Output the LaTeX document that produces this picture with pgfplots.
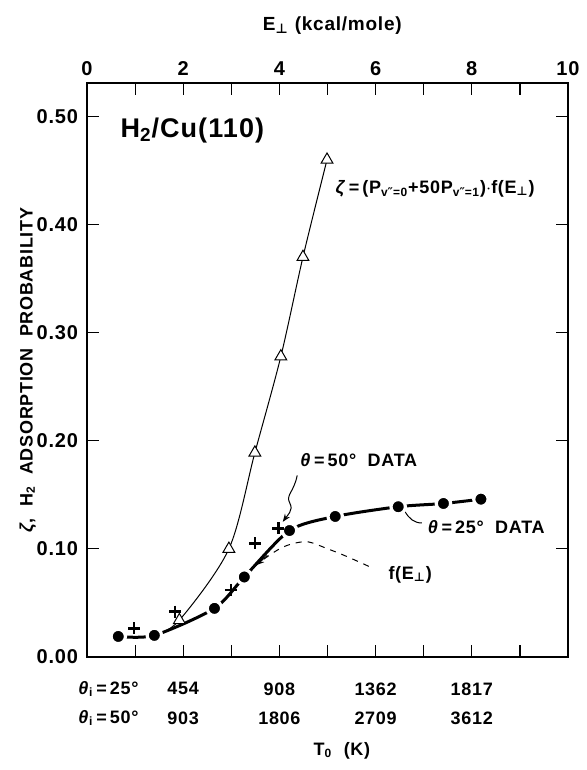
\documentclass[border=0pt]{standalone}
\usepackage{pgfplots}
\pgfplotsset{compat=1.18}
\usepackage{fontspec}
\setmainfont{Liberation Sans}[LetterSpace=4]
\newfontfamily\dv{DejaVu Sans}
\usetikzlibrary{arrows.meta}
\newcommand{\pp}{\textsubscript{\dv ⊥}}
\newcommand{\dpr}{{\dv\char"2033}}
\begin{document}
\begin{tikzpicture}[font=\bfseries\fontsize{9}{10}\selectfont]
\begin{axis}[
 name=ax, at={(0,0)}, anchor=south west,
 scale only axis, width=240.5pt, height=287pt,
 xmin=0, xmax=10, ymin=0, ymax=0.531,
 axis line style={line width=0.9pt},
 xtick={0,2,4,6,8,10}, minor xtick={1,3,5,7,9},
 xticklabels={0,2,4,6,8,10},
 xticklabel pos=right,
 ytick={0,0.1,0.2,0.3,0.4,0.5},
 yticklabels={0.00,0.10,0.20,0.30,0.40,0.50},
 xtick pos=both, ytick pos=both,
 tick align=inside, major tick length=6pt, minor tick length=6pt,
 tick style={line width=0.6pt, black},
 ticklabel style={font=\bfseries\fontsize{10}{11}\selectfont},
 yticklabel style={xshift=-1pt},
 clip=false,
]
% zeta curve (thin)
\addplot[black, line width=0.5pt, smooth, tension=0.5] coordinates {
 (1.40,0.020) (1.92,0.034) (2.95,0.100) (3.49,0.189) (4.03,0.278) (4.49,0.370) (4.99,0.460)};
% f(E) dashed
\addplot[black, line width=0.5pt, dashed, smooth] coordinates {
 (3.3,0.076) (3.6,0.088) (4.0,0.100) (4.29,0.105) (4.6,0.1065) (4.98,0.1005) (5.40,0.093) (5.95,0.082)};
% thick line through 25 deg data
\addplot[black, line width=1.5pt, smooth, tension=0.45] coordinates {
 (0.65,0.019) (1.40,0.020) (2.65,0.045) (3.27,0.074) (4.21,0.117) (5.16,0.130) (6.47,0.139) (7.41,0.142) (8.19,0.146)};
% circles
\addplot[only marks, mark=*, mark size=3.6pt, mark options={fill=black, draw=white, line width=1.6pt}] coordinates {
 (0.65,0.019) (1.40,0.020) (2.65,0.045) (3.27,0.074) (4.21,0.117) (5.16,0.130) (6.47,0.139) (7.41,0.142) (8.19,0.146)};
% triangles
\addplot[only marks, mark=triangle*, mark size=3.4pt, mark options={fill=white, draw=black, line width=0.5pt}] coordinates {
 (1.92,0.034) (2.95,0.100) (3.49,0.189) (4.03,0.278) (4.49,0.370) (4.99,0.460)};
% crosses (50 deg data)
\addplot[only marks, mark=+, mark size=3pt, mark options={line width=1.3pt, black}] coordinates {
 (0.98,0.0265) (1.83,0.042) (2.99,0.062) (3.49,0.105) (3.98,0.119)};
% annotations
\node[anchor=west, font=\bfseries\fontsize{13.5}{15}\selectfont] at (axis cs:0.55,0.487) {H\textsubscript{2}/Cu(110)};
\node[anchor=west] at (axis cs:5.02,0.433) {\textit{ζ}\,=\,(P\textsubscript{v\dpr=0}+50P\textsubscript{v\dpr=1})$\cdot$f(E\pp)};
\node at (axis cs:5.65,0.182) {\textit{θ}\,=\,50° \ DATA};
\node at (axis cs:8.30,0.120) {\textit{θ}\,=\,25° \ DATA};
\node at (axis cs:6.72,0.076) {f(E\pp)};
\draw[line width=0.5pt, -{Stealth[length=4pt,width=3pt]}] (axis cs:4.37,0.168) .. controls (axis cs:4.30,0.152) and (axis cs:4.12,0.150) .. (axis cs:4.22,0.142) .. controls (axis cs:4.30,0.136) and (axis cs:4.15,0.130) .. (axis cs:4.07,0.125);
\draw[line width=0.5pt] (axis cs:6.96,0.124) .. controls (axis cs:6.80,0.124) and (axis cs:6.70,0.128) .. (axis cs:6.61,0.1345);
\draw[line width=0.5pt, -{Stealth[length=4pt,width=3pt]}] (axis cs:3.75,0.094) -- (axis cs:3.52,0.085);
% bottom rows
\node[anchor=east] at (axis cs:1.22,-0.0295) {\textit{θ}\textsubscript{i}\,=\,25°};
\node[anchor=east] at (axis cs:1.22,-0.0565) {\textit{θ}\textsubscript{i}\,=\,50°};
\node at (axis cs:2,-0.0295) {454};
\node at (axis cs:4,-0.0295) {908};
\node at (axis cs:6,-0.0295) {1362};
\node at (axis cs:8,-0.0295) {1817};
\node at (axis cs:2,-0.0565) {903};
\node at (axis cs:4,-0.0565) {1806};
\node at (axis cs:6,-0.0565) {2709};
\node at (axis cs:8,-0.0565) {3612};
\node at (axis cs:5.3,-0.0865) {T\textsubscript{0} \ (K)};
\node[font=\bfseries\fontsize{9.5}{10}\selectfont] at (axis description cs:0.51,1.10) {E\pp \ (kcal/mole)};
\node[rotate=90, font=\bfseries\fontsize{9}{10}\selectfont] at (axis description cs:-0.1227,0.5) {\textit{ζ}, \ H\textsubscript{2} \ ADSORPTION \ PROBABILITY};
\end{axis}
\path (-43.5pt,-56.5pt) rectangle (245.5pt,328.5pt);
\end{tikzpicture}
\end{document}
